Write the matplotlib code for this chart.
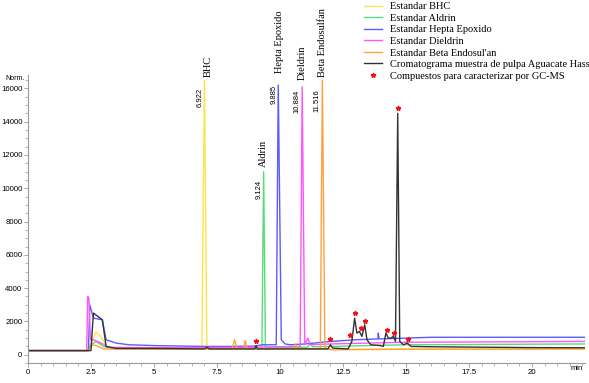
import numpy as np
import matplotlib.pyplot as plt
from matplotlib.lines import Line2D
from matplotlib.ticker import MultipleLocator

# chromatogram traces, (time in min, response)
bhc_t = [0, 2.35, 2.5, 2.7, 2.9, 3.1, 3.5, 5, 6.9, 7.0, 7.1, 9, 12, 15, 22.1]
bhc_y = [250, 250, 700, 1350, 1100, 500, 350, 330, 330, 16500, 330, 330, 330, 350, 350]

aldrin_t = [0, 2.4, 2.5, 2.7, 3.0, 3.3, 9.0, 9.28, 9.35, 9.42, 10.5, 11.1, 11.2, 11.3, 12, 15, 22.1]
aldrin_y = [250, 250, 600, 800, 500, 400, 400, 400, 11000, 450, 450, 450, 700, 480, 500, 600, 650]

hepta_t = [0, 2.4, 2.45, 2.6, 2.95, 3.1, 3.5, 4, 5, 7, 8, 9, 9.3, 9.85, 9.93, 10.05,
           10.2, 10.4, 11, 12, 13, 13.88, 13.9, 13.93, 15, 16, 22.1]
hepta_y = [250, 250, 3000, 2200, 2100, 900, 700, 600, 550, 500, 500, 520, 600, 600, 16200, 900,
           650, 600, 650, 800, 900, 950, 1300, 950, 1000, 1050, 1050]

dieldrin_t = [0, 2.33, 2.37, 2.42, 2.48, 2.6, 2.9, 3.2, 5, 9, 10.5, 10.8, 10.88, 10.98,
              11.1, 11.2, 12, 15, 22.1]
dieldrin_y = [250, 250, 3500, 3400, 900, 900, 700, 450, 420, 450, 500, 500, 16100, 600,
              1000, 600, 650, 750, 800]

endo_t = [0, 2.4, 2.55, 2.7, 3.0, 5, 8.1, 8.2, 8.3, 8.55, 8.62, 8.7, 10.55, 10.62, 10.7,
          11.6, 11.68, 11.78, 12, 15, 22.1]
endo_y = [250, 250, 600, 550, 350, 330, 350, 900, 350, 350, 850, 350, 350, 650, 350,
          350, 16500, 400, 300, 330, 350]

sample_t = [0, 2.5, 2.55, 2.6, 2.95, 3.1, 3.5, 5, 7, 7.1, 7.2, 9.0, 9.05, 9.1, 11.9, 12.0,
            12.1, 12.7, 12.85, 12.96, 13.05, 13.15, 13.25, 13.36, 13.45, 13.6, 14.0, 14.1,
            14.2, 14.3, 14.4, 14.5, 14.58, 14.67, 14.75, 14.9, 15.05, 15.2, 16, 20, 22.1]
sample_y = [250, 250, 1500, 2500, 2100, 500, 380, 380, 350, 450, 350, 350, 550, 350, 350, 600,
            400, 350, 800, 2200, 1300, 1400, 1100, 1800, 900, 600, 550, 500,
            1300, 1000, 1000, 1100, 800, 14500, 800, 600, 700, 500, 480, 430, 420]

# compounds marked for GC-MS
star_t = [9.05, 11.98, 12.79, 12.96, 13.2, 13.36, 14.23, 14.54, 14.67, 15.07]
star_y = [800, 940, 1180, 2520, 1600, 2020, 1500, 1300, 14830, 940]

# peak labels: (name, name x, name bottom, time text, time x, time top)
peak_names = ["BHC", "Aldrin", "Hepta Epoxido", "Dieldrin", "Beta Endosulfan"]
name_x = [7.14, 9.33, 9.96, 10.90, 11.67]
name_y = [16700, 11290, 16940, 16520, 16700]
rt_labels = ["6.922", "9.124", "9.885", "10.884", "11.516"]
rt_x = [6.83, 9.17, 9.76, 10.66, 11.46]
rt_y = [16040, 10510, 16220, 15920, 15920]

legend_labels = ["Estandar BHC", "Estandar Aldrin", "Estandar Hepta Epoxido",
                 "Estandar Dieldrin", "Estandar Beta Endosul'an",
                 "Cromatograma muestra de pulpa Aguacate Hass",
                 "Compuestos para caracterizar por GC-MS"]

colors = ["#FFE24A", "#55DD77", "#5A5AFF", "#FF55FF", "#FFA040", "#333333"]

fig = plt.figure(figsize=(5.89, 3.83), dpi=100)
ax = fig.add_axes([0.0475, 0.052, 0.9457, 0.752])

traces = [(bhc_t, bhc_y), (aldrin_t, aldrin_y), (hepta_t, hepta_y),
          (dieldrin_t, dieldrin_y), (endo_t, endo_y), (sample_t, sample_y)]
for (t, y), c in zip(traces, colors):
    ax.plot(t, y, color=c, linewidth=1.0)

ax.plot(star_t, star_y, '*', color="#EE1111", markersize=3.5, linestyle='none')

for i in range(len(peak_names)):
    ax.text(name_x[i], name_y[i], peak_names[i], rotation=90, ha='center', va='bottom',
            family='Liberation Serif', fontsize=7.5, clip_on=False)
    ax.text(rt_x[i], rt_y[i], rt_labels[i], rotation=90, ha='center', va='top',
            family='Liberation Sans', fontsize=5.5, clip_on=False)

ax.set_xlim(0, 22.1)
ax.set_ylim(-500, 16800)
ax.xaxis.set_minor_locator(MultipleLocator(0.5))
ax.yaxis.set_major_locator(MultipleLocator(2000))
ax.yaxis.set_minor_locator(MultipleLocator(500))
ax.set_xticks([0, 2.5, 5, 7.5, 10, 12.5, 15, 17.5, 20])
ax.set_xticklabels(["0", "2.5", "5", "7.5", "10", "12.5", "15", "17.5", "20"])
for sp in ["top", "right"]:
    ax.spines[sp].set_visible(False)
for sp in ["left", "bottom"]:
    ax.spines[sp].set_color("#999999")
    ax.spines[sp].set_linewidth(0.8)
ax.tick_params(which='major', length=3, width=0.6, color="#999999", labelsize=5.6, pad=1)
ax.tick_params(which='minor', length=2, width=0.5, color="#999999")
for lab in ax.get_xticklabels() + ax.get_yticklabels():
    lab.set_family('Liberation Sans')

fig.text(5 / 589, 1 - 79 / 383, "Norm.", fontsize=5, family='Liberation Sans', va='center')
fig.text(577 / 589, 1 - 368 / 383, "min", fontsize=5.5, family='Liberation Sans',
         va='center', ha='center')

handles = [Line2D([], [], color=c, linewidth=1.0) for c in colors]
handles.append(Line2D([], [], marker='*', color="#EE1111", markersize=3.5, linestyle='none'))
fig.legend(handles, legend_labels, loc='upper left', bbox_to_anchor=(364 / 589, 0.995),
           frameon=False, prop={'family': 'Liberation Serif', 'size': 7.5},
           handlelength=1.7, handletextpad=0.8, labelspacing=0.22, borderpad=0,
           borderaxespad=0)

plt.savefig("out.png", dpi=100)
